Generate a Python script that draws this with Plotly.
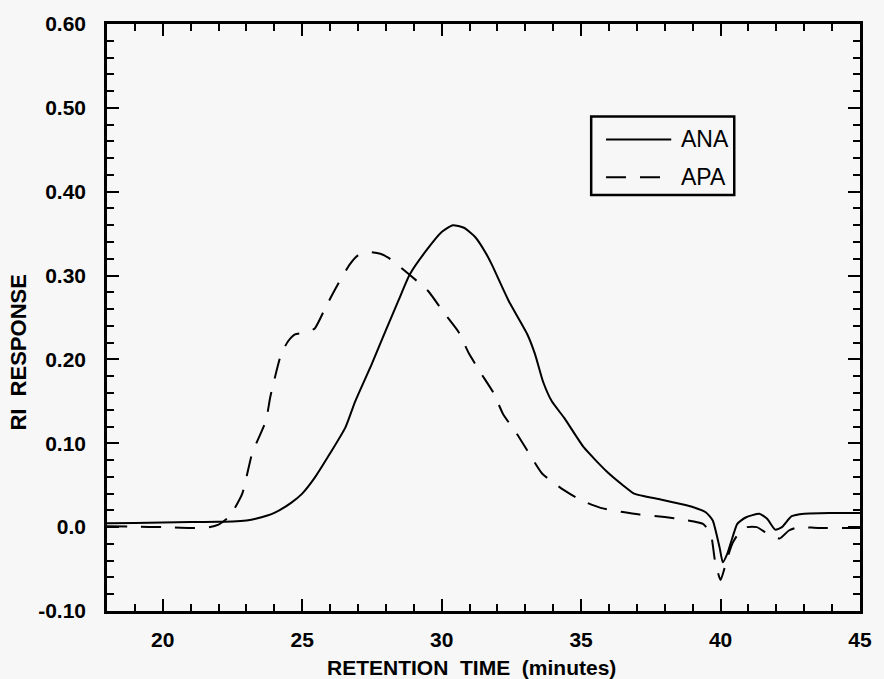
import plotly.graph_objects as go

# ANA (solid) retention time (min) and RI response
ana_t = [18.0, 19.0, 20.0, 21.0, 22.0, 22.5, 23.0, 23.33, 24.0, 24.6, 25.0, 25.45, 26.0, 26.55,
         26.9, 27.5, 28.0, 28.46, 28.85, 29.45, 30.0, 30.4, 30.8, 31.2, 31.58, 31.8, 32.4, 33.07,
         33.35, 33.63, 33.95, 34.4, 35.1, 35.9, 36.5, 36.9, 37.85, 38.66, 39.0, 39.48, 39.72, 39.97,
         40.08, 40.25, 40.43, 40.6, 40.9, 41.39, 41.67, 41.96, 42.2, 42.55, 43.0, 44.0, 45.0]
ana_v = [0.0045, 0.005, 0.0055, 0.006, 0.0065, 0.0068, 0.008, 0.010, 0.017, 0.029, 0.040, 0.059, 0.088, 0.119,
         0.150, 0.195, 0.235, 0.271, 0.301, 0.330, 0.352, 0.360, 0.357, 0.346, 0.327, 0.313, 0.270, 0.230,
         0.206, 0.174, 0.150, 0.130, 0.095, 0.067, 0.050, 0.040, 0.033, 0.027, 0.024, 0.0175, 0.008, -0.025,
         -0.042, -0.031, -0.012, 0.004, 0.0115, 0.016, 0.010, -0.003, 0.0, 0.013, 0.016, 0.0168, 0.017]

# APA (dashed)
apa_t = [18.0, 19.0, 20.0, 21.0, 21.66, 22.0, 22.4, 22.85, 23.2, 23.5, 23.7, 23.86, 24.25, 24.5, 24.74,
         25.1, 25.45, 25.85, 26.27, 26.7, 27.0, 27.4, 27.8, 28.1, 28.85, 29.53, 30.05, 30.6, 30.98, 31.4,
         31.86, 32.2, 32.7, 33.17, 33.6, 34.3, 35.0, 35.7, 36.5, 37.1, 38.0, 38.66, 39.37, 39.65, 39.8,
         40.0, 40.25, 40.43, 40.7, 40.96, 41.3, 41.6, 41.85, 42.13, 42.45, 42.8, 43.5, 45.0]
apa_v = [0.001, 0.0005, 0.0, -0.001, 0.0, 0.003, 0.013, 0.040, 0.0875, 0.111, 0.127, 0.156, 0.207, 0.222, 0.230,
         0.232, 0.237, 0.263, 0.289, 0.313, 0.324, 0.328, 0.326, 0.321, 0.301, 0.281, 0.257, 0.233, 0.207, 0.184,
         0.160, 0.135, 0.111, 0.086, 0.064, 0.046, 0.032, 0.023, 0.018, 0.015, 0.012, 0.009, 0.004, -0.008, -0.040,
         -0.063, -0.036, -0.019, -0.005, 0.0, 0.0, -0.006, -0.011, -0.0134, -0.004, 0.0, -0.001, -0.001]

x_tickvals = [20, 25, 30, 35, 40, 45]
y_tickvals = [-0.10, 0.0, 0.10, 0.20, 0.30, 0.40, 0.50, 0.60]
y_ticktext = ["-0.10", "0.0", "0.10", "0.20", "0.30", "0.40", "0.50", "0.60"]
series_names = ["ANA", "APA"]

FONT = "Liberation Sans, Arial, sans-serif"
BG = "#f7f7f7"

fig = go.Figure()
fig.add_trace(go.Scatter(x=ana_t, y=ana_v, mode="lines", name=series_names[0],
                         line=dict(color="black", width=2, shape="spline", smoothing=0.5),
                         showlegend=False))
fig.add_trace(go.Scatter(x=apa_t, y=apa_v, mode="lines", name=series_names[1],
                         line=dict(color="black", width=2, dash="20px,14px", shape="spline", smoothing=0.5),
                         showlegend=False))

axis_common = dict(
    showgrid=False, zeroline=False, showline=True, linecolor="black", linewidth=2.5,
    mirror="ticks", ticks="inside", ticklen=12, tickwidth=2, tickcolor="black",
    tickfont=dict(family=FONT, size=21, color="black", weight="bold"),
)

fig.update_xaxes(range=[18, 45], tickvals=x_tickvals, ticklabelstandoff=8,
                 minor=dict(dtick=1, tick0=18, ticks="inside", ticklen=7, tickwidth=2, tickcolor="black"),
                 **axis_common)
fig.update_yaxes(range=[-0.10, 0.60], tickvals=y_tickvals, ticktext=y_ticktext, ticklabelstandoff=14,
                 minor=dict(dtick=0.02, tick0=0, ticks="inside", ticklen=7, tickwidth=2, tickcolor="black"),
                 **axis_common)

# manual legend box
fig.add_shape(type="rect", xref="paper", yref="paper", x0=0.643, x1=0.833, y0=0.7085, y1=0.8424,
              line=dict(color="black", width=2.5), fillcolor=BG, layer="above")
fig.add_shape(type="line", xref="paper", yref="paper", x0=0.6627, x1=0.7493, y0=0.8034, y1=0.8034,
              line=dict(color="black", width=2))
fig.add_shape(type="line", xref="paper", yref="paper", x0=0.6627, x1=0.7493, y0=0.739, y1=0.739,
              line=dict(color="black", width=2, dash="20px,14px"))
fig.add_annotation(x=0.759, y=0.8034, xref="paper", yref="paper", text=series_names[0], showarrow=False,
                   xanchor="left", yanchor="middle", font=dict(family=FONT, size=23, color="black"))
fig.add_annotation(x=0.759, y=0.739, xref="paper", yref="paper", text=series_names[1], showarrow=False,
                   xanchor="left", yanchor="middle", font=dict(family=FONT, size=23, color="black"))

# axis titles
fig.add_annotation(x=0.484, y=-0.097, xref="paper", yref="paper",
                   text="RETENTION\u00a0 TIME\u00a0 (minutes)", showarrow=False,
                   xanchor="center", yanchor="middle",
                   font=dict(family=FONT, size=21, color="black", weight="bold"))
fig.add_annotation(x=-0.117, y=0.44, xref="paper", yref="paper",
                   text="RI\u00a0 RESPONSE", showarrow=False, textangle=-90,
                   xanchor="center", yanchor="middle",
                   font=dict(family=FONT, size=22, color="black", weight="bold"))

fig.update_layout(
    width=884, height=679,
    margin=dict(l=107, r=15, t=21, b=68),
    paper_bgcolor=BG, plot_bgcolor=BG,
    showlegend=False,
)

fig.write_html("out.html")
